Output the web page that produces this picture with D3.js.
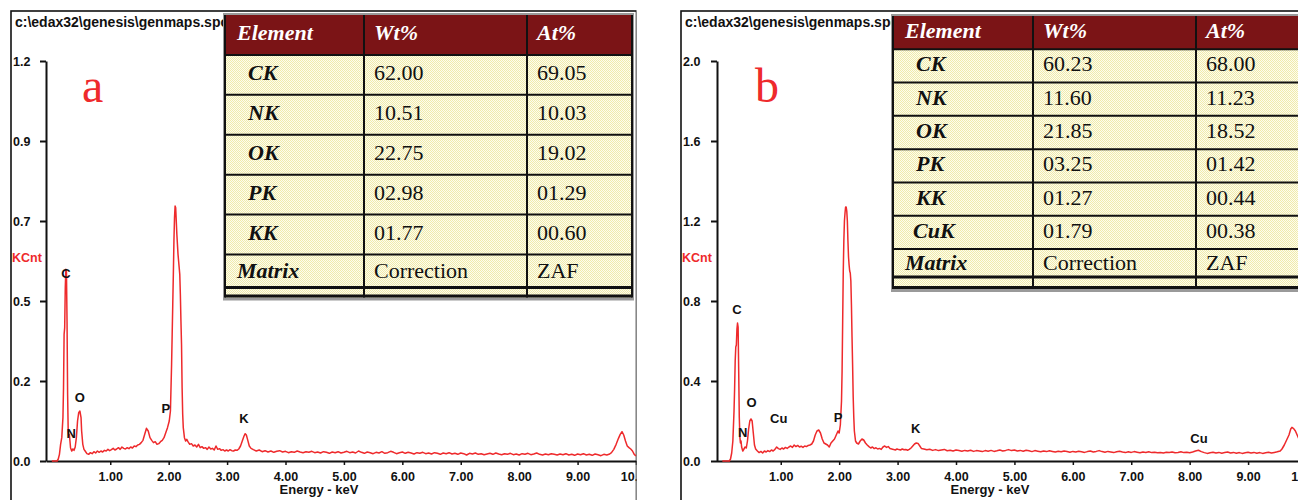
<!DOCTYPE html>
<html>
<head>
<meta charset="utf-8">
<script src="https://cdn.jsdelivr.net/npm/d3@7"></script>
<style>
  body { margin: 0; background: #fff; }
  svg { display: block; }
</style>
</head>
<body>
<svg id="chart" width="1298" height="500"></svg>
<script>
// ---- Spectrum A : energy (keV), counts (KCnt) ----
const spectrumA = [
  [0,0],[0.09,0],[0.11,0.006],[0.13,0.02],[0.15,0.05],[0.17,0.07],[0.19,0.13],[0.20,0.22],[0.21,0.38],[0.22,0.40],
  [0.23,0.52],[0.24,0.575],[0.25,0.57],[0.26,0.42],[0.27,0.2],[0.28,0.09],[0.29,0.075],[0.30,0.08],[0.31,0.06],[0.32,0.04],
  [0.34,0.03],[0.36,0.036],[0.38,0.032],[0.40,0.042],[0.42,0.07],[0.44,0.12],[0.46,0.145],[0.48,0.15],[0.50,0.13],[0.51,0.09],
  [0.53,0.05],[0.55,0.035],[0.57,0.03],[0.60,0.022],[0.63,0.02],[0.66,0.025],[0.69,0.022],[0.72,0.028],[0.75,0.024],[0.78,0.03],
  [0.81,0.026],[0.84,0.03],[0.87,0.027],[0.90,0.032],[0.93,0.03],[0.96,0.035],[0.99,0.031],[1.02,0.034],[1.05,0.038],[1.08,0.033],
  [1.11,0.036],[1.14,0.04],[1.17,0.035],[1.20,0.042],[1.23,0.038],[1.26,0.036],[1.29,0.04],[1.32,0.037],[1.35,0.042],[1.38,0.039],
  [1.41,0.045],[1.44,0.043],[1.47,0.048],[1.50,0.05],[1.53,0.055],[1.56,0.062],[1.59,0.08],[1.62,0.098],[1.65,0.09],[1.68,0.07],
  [1.71,0.062],[1.74,0.055],[1.77,0.058],[1.80,0.05],[1.83,0.052],[1.86,0.058],[1.89,0.062],[1.92,0.07],[1.95,0.085],[1.98,0.1],
  [2.01,0.12],[2.03,0.15],[2.05,0.29],[2.06,0.38],[2.07,0.47],[2.08,0.56],[2.09,0.66],[2.10,0.73],[2.11,0.765],[2.12,0.76],
  [2.13,0.72],[2.14,0.68],[2.15,0.65],[2.16,0.62],[2.17,0.6],[2.18,0.58],[2.19,0.56],[2.20,0.5],[2.21,0.42],[2.22,0.35],
  [2.23,0.22],[2.24,0.14],[2.25,0.1],[2.27,0.07],[2.29,0.06],[2.31,0.065],[2.33,0.058],[2.36,0.05],[2.39,0.052],[2.42,0.045],
  [2.45,0.048],[2.48,0.042],[2.51,0.05],[2.54,0.04],[2.57,0.043],[2.60,0.038],[2.63,0.04],[2.66,0.035],[2.69,0.042],[2.72,0.036],
  [2.75,0.038],[2.78,0.033],[2.81,0.045],[2.84,0.035],[2.87,0.037],[2.90,0.032],[2.93,0.034],[2.96,0.03],[2.99,0.033],[3.02,0.03],
  [3.05,0.034],[3.08,0.031],[3.11,0.03],[3.14,0.033],[3.17,0.032],[3.20,0.036],[3.23,0.045],[3.26,0.06],[3.29,0.075],[3.31,0.082],
  [3.33,0.078],[3.35,0.065],[3.38,0.045],[3.41,0.038],[3.45,0.034],[3.50,0.030],[3.55,0.033],[3.60,0.028],[3.65,0.031],[3.70,0.027],
  [3.75,0.030],[3.80,0.026],[3.85,0.029],[3.90,0.031],[3.95,0.027],[4.00,0.029],[4.05,0.025],[4.10,0.028],[4.15,0.026],[4.20,0.030],
  [4.25,0.027],[4.30,0.025],[4.35,0.028],[4.40,0.026],[4.45,0.029],[4.50,0.025],[4.55,0.027],[4.60,0.024],[4.65,0.028],[4.70,0.026],
  [4.75,0.023],[4.80,0.027],[4.85,0.025],[4.90,0.028],[4.95,0.024],[5.00,0.026],[5.05,0.029],[5.10,0.025],[5.15,0.027],[5.20,0.024],
  [5.25,0.030],[5.30,0.026],[5.35,0.023],[5.40,0.027],[5.45,0.025],[5.50,0.022],[5.55,0.026],[5.60,0.024],[5.65,0.028],[5.70,0.023],
  [5.75,0.025],[5.80,0.029],[5.85,0.026],[5.90,0.022],[5.95,0.025],[6.00,0.027],[6.05,0.023],[6.10,0.026],[6.15,0.024],[6.20,0.021],
  [6.25,0.025],[6.30,0.023],[6.35,0.026],[6.40,0.022],[6.45,0.024],[6.50,0.021],[6.55,0.025],[6.60,0.023],[6.65,0.020],[6.70,0.024],
  [6.75,0.022],[6.80,0.025],[6.85,0.021],[6.90,0.023],[6.95,0.020],[7.00,0.024],[7.05,0.022],[7.10,0.018],[7.15,0.023],[7.20,0.021],
  [7.25,0.024],[7.30,0.020],[7.35,0.022],[7.40,0.019],[7.45,0.021],[7.50,0.023],[7.55,0.020],[7.60,0.024],[7.65,0.021],[7.70,0.019],
  [7.75,0.022],[7.80,0.020],[7.85,0.023],[7.90,0.019],[7.95,0.021],[8.00,0.018],[8.05,0.022],[8.10,0.020],[8.15,0.023],[8.20,0.019],
  [8.25,0.021],[8.30,0.024],[8.35,0.020],[8.40,0.018],[8.45,0.021],[8.50,0.019],[8.55,0.022],[8.60,0.020],[8.65,0.018],[8.70,0.021],
  [8.75,0.019],[8.80,0.022],[8.85,0.018],[8.90,0.020],[8.95,0.017],[9.00,0.021],[9.05,0.019],[9.10,0.022],[9.15,0.018],[9.20,0.020],
  [9.25,0.017],[9.30,0.021],[9.35,0.019],[9.40,0.016],[9.45,0.020],[9.50,0.018],[9.55,0.021],[9.58,0.025],[9.62,0.035],[9.66,0.05],
  [9.70,0.068],[9.73,0.08],[9.76,0.088],[9.79,0.078],[9.82,0.06],[9.85,0.045],[9.88,0.04],[9.91,0.036],[9.94,0.03],[9.97,0.02],[10.0,0.015]
];

// ---- Spectrum B : energy (keV), counts (KCnt) ----
const spectrumB = [
  [0,0],[0.12,0],[0.14,0.01],[0.16,0.04],[0.18,0.1],[0.20,0.25],[0.21,0.36],[0.22,0.5],[0.23,0.57],[0.24,0.58],
  [0.25,0.66],[0.26,0.69],[0.27,0.67],[0.28,0.45],[0.29,0.22],[0.30,0.12],[0.31,0.09],[0.32,0.1],[0.33,0.07],[0.35,0.05],
  [0.37,0.06],[0.39,0.07],[0.41,0.065],[0.43,0.1],[0.45,0.16],[0.47,0.2],[0.49,0.21],[0.51,0.2],[0.53,0.14],[0.55,0.08],
  [0.57,0.06],[0.60,0.05],[0.63,0.042],[0.66,0.048],[0.69,0.04],[0.72,0.05],[0.75,0.045],[0.78,0.052],[0.81,0.047],[0.84,0.055],
  [0.87,0.05],[0.90,0.058],[0.93,0.07],[0.96,0.062],[0.99,0.058],[1.02,0.065],[1.05,0.06],[1.08,0.068],[1.11,0.063],[1.14,0.07],
  [1.17,0.075],[1.20,0.068],[1.23,0.08],[1.26,0.072],[1.29,0.078],[1.32,0.07],[1.35,0.074],[1.38,0.068],[1.41,0.075],[1.44,0.072],
  [1.47,0.078],[1.50,0.08],[1.53,0.085],[1.56,0.1],[1.59,0.13],[1.62,0.15],[1.65,0.155],[1.68,0.14],[1.71,0.11],[1.74,0.09],
  [1.77,0.085],[1.80,0.08],[1.83,0.07],[1.86,0.09],[1.89,0.1],[1.92,0.11],[1.95,0.13],[1.98,0.15],[2.00,0.14],[2.02,0.18],
  [2.04,0.3],[2.05,0.45],[2.06,0.7],[2.07,0.95],[2.08,1.1],[2.09,1.2],[2.10,1.24],[2.11,1.27],[2.12,1.27],[2.13,1.25],
  [2.14,1.2],[2.15,1.1],[2.16,1.02],[2.17,0.98],[2.18,0.95],[2.19,0.94],[2.20,0.9],[2.21,0.78],[2.22,0.62],[2.23,0.48],
  [2.24,0.32],[2.25,0.22],[2.26,0.15],[2.28,0.1],[2.30,0.09],[2.33,0.085],[2.36,0.1],[2.39,0.11],[2.42,0.105],[2.45,0.09],
  [2.48,0.08],[2.51,0.072],[2.54,0.065],[2.57,0.07],[2.60,0.062],[2.63,0.066],[2.66,0.06],[2.69,0.063],[2.72,0.058],[2.75,0.07],
  [2.78,0.075],[2.81,0.068],[2.84,0.072],[2.87,0.062],[2.90,0.06],[2.93,0.058],[2.96,0.055],[2.99,0.06],[3.02,0.057],[3.05,0.055],
  [3.08,0.06],[3.11,0.056],[3.14,0.058],[3.17,0.054],[3.20,0.058],[3.23,0.065],[3.26,0.075],[3.29,0.085],[3.32,0.09],[3.35,0.088],
  [3.38,0.075],[3.41,0.062],[3.45,0.06],[3.50,0.056],[3.55,0.059],[3.60,0.053],[3.65,0.057],[3.70,0.052],[3.75,0.055],[3.80,0.058],
  [3.85,0.051],[3.90,0.054],[3.95,0.05],[4.00,0.055],[4.05,0.052],[4.10,0.049],[4.15,0.053],[4.20,0.05],[4.25,0.054],[4.30,0.048],
  [4.35,0.052],[4.40,0.05],[4.45,0.047],[4.50,0.052],[4.55,0.049],[4.60,0.053],[4.65,0.048],[4.70,0.051],[4.75,0.055],[4.80,0.05],
  [4.85,0.053],[4.90,0.057],[4.95,0.052],[5.00,0.055],[5.05,0.05],[5.10,0.053],[5.15,0.049],[5.20,0.054],[5.25,0.051],[5.30,0.047],
  [5.35,0.052],[5.40,0.049],[5.45,0.046],[5.50,0.05],[5.55,0.047],[5.60,0.051],[5.65,0.048],[5.70,0.045],[5.75,0.049],[5.80,0.046],
  [5.85,0.05],[5.90,0.047],[5.95,0.044],[6.00,0.048],[6.05,0.045],[6.10,0.049],[6.15,0.046],[6.20,0.043],[6.25,0.047],[6.30,0.05],
  [6.35,0.045],[6.40,0.048],[6.45,0.052],[6.50,0.047],[6.55,0.044],[6.60,0.048],[6.65,0.045],[6.70,0.042],[6.75,0.046],[6.80,0.049],
  [6.85,0.045],[6.90,0.042],[6.95,0.046],[7.00,0.043],[7.05,0.047],[7.10,0.044],[7.15,0.041],[7.20,0.045],[7.25,0.043],[7.30,0.046],
  [7.35,0.042],[7.40,0.044],[7.45,0.041],[7.50,0.043],[7.55,0.04],[7.60,0.044],[7.65,0.042],[7.70,0.045],[7.75,0.041],[7.80,0.043],
  [7.85,0.046],[7.90,0.042],[7.95,0.044],[8.00,0.041],[8.05,0.045],[8.10,0.05],[8.15,0.054],[8.20,0.047],[8.25,0.042],[8.30,0.038],
  [8.35,0.041],[8.40,0.044],[8.45,0.04],[8.50,0.043],[8.55,0.039],[8.60,0.042],[8.65,0.045],[8.70,0.04],[8.75,0.043],[8.80,0.039],
  [8.85,0.042],[8.90,0.038],[8.95,0.041],[9.00,0.044],[9.05,0.04],[9.10,0.043],[9.15,0.039],[9.20,0.042],[9.25,0.038],[9.30,0.041],
  [9.35,0.044],[9.40,0.04],[9.45,0.043],[9.50,0.046],[9.55,0.05],[9.58,0.06],[9.62,0.08],[9.66,0.105],[9.70,0.13],[9.73,0.16],
  [9.75,0.168],[9.78,0.162],[9.81,0.15],[9.84,0.13],[9.87,0.11],[9.90,0.09],[9.93,0.07],[9.96,0.06],[10.0,0.05]
];

// Peak identification labels: [element, keV, KCnt at label baseline]
const peakLabelsA = [["C",0.24,0.549],["N",0.33,0.069],["O",0.48,0.178],["P",1.95,0.144],["K",3.29,0.115]];
const peakLabelsB = [["C",0.25,0.735],["N",0.35,0.12],["O",0.5,0.27],["Cu",0.965,0.19],["P",1.98,0.197],["K",3.31,0.14],["Cu",8.16,0.09]];

// Axis ticks
const xTicks = [1,2,3,4,5,6,7,8,9,10];
const yTicksA = [0,0.24,0.48,0.72,0.96,1.2];
const yTickLabelsA = ["0.0","0.2","0.5","0.7","0.9","1.2"];
const yTicksB = [0,0.4,0.8,1.2,1.6,2.0];
const yTickLabelsB = ["0.0","0.4","0.8","1.2","1.6","2.0"];

// Quantification tables
const tableHeader = ["Element","Wt%","At%"];
const elementsA = ["CK","NK","OK","PK","KK"];
const wtA = ["62.00","10.51","22.75","02.98","01.77"];
const atA = ["69.05","10.03","19.02","01.29","00.60"];
const elementsB = ["CK","NK","OK","PK","KK","CuK"];
const wtB = ["60.23","11.60","21.85","03.25","01.27","01.79"];
const atB = ["68.00","11.23","18.52","01.42","00.44","00.38"];
const matrixRow = ["Matrix","Correction","ZAF"];

const filePath = "c:\\edax32\\genesis\\genmaps.spc   20-Jul-2015 09:42:33";

// ---- drawing ----
const svg = d3.select("#chart");
const SANS = "'Liberation Sans', Arial, sans-serif";
const SERIF = "'Liberation Serif', 'Times New Roman', serif";
const RED = "#ee2a2c";

const defs = svg.append("defs");
const pat = defs.append("pattern").attr("id", "cellDots")
  .attr("width", 2).attr("height", 2).attr("patternUnits", "userSpaceOnUse");
pat.append("rect").attr("width", 2).attr("height", 2).attr("fill", "#fdfcee");
pat.append("rect").attr("x", 0).attr("y", 0).attr("width", 1).attr("height", 1).attr("fill", "#f0ebab");
pat.append("rect").attr("x", 1).attr("y", 1).attr("width", 1).attr("height", 1).attr("fill", "#f0ebab");

const panels = [
  { id: "a", frame: [11, 11, 636.5], axisX: 46, xRange: [46, 636], yMax: 1.2,
    yTicks: yTicksA, yLabels: yTickLabelsA, data: spectrumA, peaks: peakLabelsA, letterX: 82,
    table: { x: 225, y: 15, cols: [225, 364, 527, 632], bodyBottom: 254.5, matrixH: 33, stripH: 10,
             elements: elementsA, wt: wtA, at: atA } },
  { id: "b", frame: [681, 11, 1312], axisX: 717, xRange: [716.5, 1306.5], yMax: 2.0,
    yTicks: yTicksB, yLabels: yTickLabelsB, data: spectrumB, peaks: peakLabelsB, letterX: 755,
    table: { x: 893, y: 16, cols: [893, 1033, 1196, 1302], bodyBottom: 249, matrixH: 28, stripH: 12,
             elements: elementsB, wt: wtB, at: atB } }
];

panels.forEach(p => {
  const [fx0, fy0, fx1] = p.frame;
  defs.append("clipPath").attr("id", "clip-" + p.id)
    .append("rect").attr("x", fx0 - 1).attr("y", 0).attr("width", fx1 - fx0 + 1).attr("height", 500);

  const g = svg.append("g").attr("clip-path", `url(#clip-${p.id})`);

  // outer frame
  g.append("rect").attr("x", fx0).attr("y", fy0).attr("width", fx1 - fx0).attr("height", 520)
    .attr("fill", "#fff").attr("stroke", "#111").attr("stroke-width", 1.6);

  // file path title
  g.append("text").attr("x", fx0 + 4).attr("y", 27).text(filePath)
    .attr("font-family", SANS).attr("font-weight", "bold").attr("font-size", 14).attr("fill", "#111");

  const x = d3.scaleLinear().domain([-0.1, 10]).range(p.xRange);
  const y = d3.scaleLinear().domain([0, p.yMax]).range([461, 61]);

  // y axis
  const yAxis = d3.axisLeft(y).tickValues(p.yTicks)
    .tickFormat((d, i) => p.yLabels[i]).tickSize(6).tickSizeOuter(0);
  const gy = g.append("g").attr("transform", `translate(${p.axisX},0)`).call(yAxis);
  gy.select(".domain").attr("stroke", "#111").attr("stroke-width", 2);
  gy.selectAll(".tick line").attr("stroke", "#111").attr("stroke-width", 2);
  gy.selectAll(".tick text").attr("x", fx0 + 2 - p.axisX).attr("text-anchor", "start")
    .attr("font-family", SANS).attr("font-weight", "bold").attr("font-size", 12.5).attr("fill", "#111");

  // x axis
  const xAxis = d3.axisBottom(x).tickValues(xTicks).tickFormat(d3.format(".2f"))
    .tickSize(4).tickSizeOuter(0).tickPadding(7);
  const gx = g.append("g").attr("transform", "translate(0,461)").call(xAxis);
  gx.select(".domain").attr("stroke", "#111").attr("stroke-width", 2);
  gx.selectAll(".tick line").attr("stroke", "#111").attr("stroke-width", 1.5);
  gx.selectAll(".tick text").attr("font-family", SANS).attr("font-weight", "bold")
    .attr("font-size", 12.5).attr("fill", "#111");

  g.append("text").attr("x", p.axisX + 273).attr("y", 494).attr("text-anchor", "middle")
    .text("Energy - keV").attr("font-family", SANS).attr("font-weight", "bold")
    .attr("font-size", 13).attr("fill", "#111");

  // KCnt unit
  g.append("text").attr("x", fx0 + 1).attr("y", 262).text("KCnt")
    .attr("font-family", SANS).attr("font-weight", "bold").attr("font-size", 12.5).attr("fill", RED);

  // spectrum trace
  const line = d3.line().x(d => x(d[0])).y(d => y(d[1]));
  g.append("path").datum(p.data).attr("d", line)
    .attr("fill", "none").attr("stroke", RED).attr("stroke-width", 1.5).attr("stroke-linejoin", "round");

  // peak labels
  g.selectAll(".peak").data(p.peaks).join("text").attr("class", "peak")
    .attr("x", d => x(d[1])).attr("y", d => y(d[2])).attr("text-anchor", "middle").text(d => d[0])
    .attr("font-family", SANS).attr("font-weight", "bold").attr("font-size", 13).attr("fill", "#111");

  // panel letter
  g.append("text").attr("x", p.letterX).attr("y", 102).text(p.id)
    .attr("font-family", SERIF).attr("font-size", 48).attr("fill", RED);

  // quantification table
  const t = p.table;
  const tg = g.append("g");
  const rowKeys = ["header"].concat(t.elements);
  const row = d3.scaleBand().domain(rowKeys).range([t.y, t.bodyBottom]);
  const matrixTop = t.bodyBottom, matrixBottom = t.bodyBottom + t.matrixH;
  const tableBottom = matrixBottom + t.stripH;
  const left = t.cols[0], right = t.cols[3];

  // drop shadow
  tg.append("rect").attr("x", left - 2).attr("y", t.y - 2).attr("width", right - left + 4)
    .attr("height", tableBottom - t.y + 5).attr("fill", "#9a9a9a");
  // body fill
  tg.append("rect").attr("x", left).attr("y", t.y).attr("width", right - left)
    .attr("height", tableBottom - t.y).attr("fill", "url(#cellDots)");
  // header fill
  tg.append("rect").attr("x", left).attr("y", t.y).attr("width", right - left)
    .attr("height", row.bandwidth()).attr("fill", "#7b1416");

  // horizontal rules
  const hLines = t.elements.map(e => row(e)).concat([matrixTop]);
  tg.selectAll(".hrule").data(hLines).join("line").attr("class", "hrule")
    .attr("x1", left).attr("x2", right).attr("y1", d => d).attr("y2", d => d)
    .attr("stroke", "#111").attr("stroke-width", 2);
  tg.selectAll(".hthick").data([matrixBottom, tableBottom - 1.5]).join("line").attr("class", "hthick")
    .attr("x1", left).attr("x2", right).attr("y1", d => d).attr("y2", d => d)
    .attr("stroke", "#111").attr("stroke-width", 3);
  // vertical rules
  tg.selectAll(".vrule").data(t.cols).join("line").attr("class", "vrule")
    .attr("x1", d => d).attr("x2", d => d).attr("y1", t.y).attr("y2", tableBottom)
    .attr("stroke", "#111").attr("stroke-width", 2);

  const band = row.bandwidth();
  // header text
  tg.selectAll(".htext").data(tableHeader).join("text").attr("class", "htext")
    .attr("x", (d, i) => t.cols[i] + (i === 0 ? 12 : 10)).attr("y", t.y + band / 2 + 5.5)
    .text(d => d)
    .attr("font-family", SERIF).attr("font-weight", "bold").attr("font-style", "italic")
    .attr("font-size", 22).attr("fill", "#fff");

  // element rows
  const rows = t.elements.map((e, i) => ({ e, wt: t.wt[i], at: t.at[i] }));
  const rg = tg.selectAll(".row").data(rows).join("g").attr("class", "row")
    .attr("transform", d => `translate(0,${row(d.e) + band / 2 + 5.5})`);
  rg.append("text").attr("x", d => left + (d.e.length > 2 ? 20 : 23))
    .text(d => d.e).attr("font-family", SERIF).attr("font-weight", "bold").attr("font-style", "italic")
    .attr("font-size", 22).attr("fill", "#111");
  rg.append("text").attr("x", t.cols[1] + 10).text(d => d.wt)
    .attr("font-family", SERIF).attr("font-size", 22).attr("fill", "#111");
  rg.append("text").attr("x", t.cols[2] + 10).text(d => d.at)
    .attr("font-family", SERIF).attr("font-size", 22).attr("fill", "#111");

  // matrix row
  tg.selectAll(".mtext").data(matrixRow).join("text").attr("class", "mtext")
    .attr("x", (d, i) => t.cols[i] + (i === 0 ? 12 : 10)).attr("y", matrixTop + t.matrixH / 2 + 7)
    .text(d => d)
    .attr("font-family", SERIF).attr("font-weight", (d, i) => i === 0 ? "bold" : "normal")
    .attr("font-style", (d, i) => i === 0 ? "italic" : "normal")
    .attr("font-size", 22).attr("fill", "#111");
});
</script>
</body>
</html>
